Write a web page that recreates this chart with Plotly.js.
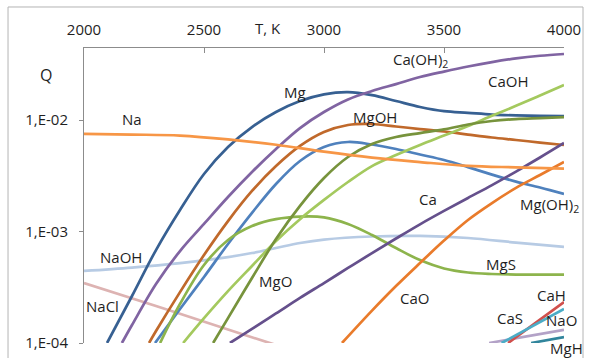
<!DOCTYPE html>
<html><head><meta charset="utf-8">
<script src="https://cdn.plot.ly/plotly-3.0.1.min.js"></script>
<style>html,body{margin:0;padding:0;background:#fff}#chart{width:590px;height:358px}</style>
</head><body><div id="chart"></div>
<script>
// ---- data (T in K, Q) ----
const T_Na = [2000,2200,2400,2600,2800,3000,3200,3400,3600,3800,4000];
const Q_Na = [7.5e-3,7.4e-3,7.25e-3,6.7e-3,6.0e-3,5.2e-3,4.6e-3,4.2e-3,3.88e-3,3.76e-3,3.66e-3];

const T_Mg = [2096,2200,2300,2400,2500,2600,2700,2800,2900,3000,3100,3200,3300,3400,3500,3600,3700,3800,3900,4000];
const Q_Mg = [1.0e-4,2.64e-4,6.82e-4,1.56e-3,3.28e-3,5.73e-3,8.65e-3,1.18e-2,1.48e-2,1.70e-2,1.78e-2,1.67e-2,1.48e-2,1.31e-2,1.20e-2,1.16e-2,1.12e-2,1.10e-2,1.09e-2,1.085e-2];

const T_CaOH2 = [2158,2200,2300,2400,2500,2600,2700,2800,2900,3000,3100,3200,3300,3400,3500,3600,3700,3800,3900,4000];
const Q_CaOH2 = [1.0e-4,1.45e-4,3.38e-4,6.68e-4,1.17e-3,2.04e-3,3.42e-3,5.5e-3,8.47e-3,1.18e-2,1.53e-2,1.82e-2,2.10e-2,2.43e-2,2.72e-2,3.02e-2,3.31e-2,3.57e-2,3.77e-2,3.91e-2];

const T_MgOH = [2271,2300,2400,2500,2600,2700,2800,2900,3000,3100,3200,3300,3400,3500,3600,3700,3800,3900,4000];
const Q_MgOH = [1.0e-4,1.28e-4,2.86e-4,6.15e-4,1.24e-3,2.31e-3,3.86e-3,5.85e-3,7.8e-3,9.02e-3,9.21e-3,8.75e-3,8.3e-3,7.89e-3,7.41e-3,6.97e-3,6.62e-3,6.28e-3,5.97e-3];

const T_MgOH2 = [2296,2400,2500,2600,2700,2800,2900,3000,3100,3200,3300,3400,3500,3600,3700,3800,3900,4000];
const Q_MgOH2 = [1.0e-4,2.02e-4,3.91e-4,7.73e-4,1.47e-3,2.67e-3,4.29e-3,5.73e-3,6.35e-3,6.03e-3,5.5e-3,4.91e-3,4.38e-3,3.78e-3,3.24e-3,2.8e-3,2.48e-3,2.17e-3];

const T_CaOH = [2413,2500,2600,2700,2800,2900,3000,3100,3200,3300,3400,3500,3600,3700,3800,3900,4000];
const Q_CaOH = [1.0e-4,1.67e-4,2.92e-4,4.91e-4,8.22e-4,1.29e-3,1.92e-3,2.78e-3,3.86e-3,4.85e-3,5.97e-3,7.26e-3,8.83e-3,1.09e-2,1.34e-2,1.66e-2,2.06e-2];

const T_MgO = [2538,2600,2700,2800,2900,3000,3100,3200,3300,3400,3500,3600,3700,3800,3900,4000];
const Q_MgO = [1.0e-4,1.67e-4,3.83e-4,8.57e-4,1.70e-3,3.02e-3,4.66e-3,6.10e-3,7.05e-3,7.64e-3,8.23e-3,9.12e-3,9.8e-3,1.02e-2,1.04e-2,1.06e-2];

const T_MgS = [2317,2400,2500,2600,2700,2800,2900,3000,3100,3200,3300,3400,3500,3600,3700,3800,3900,4000];
const Q_MgS = [1.0e-4,2.24e-4,5.01e-4,8.4e-4,1.12e-3,1.29e-3,1.36e-3,1.34e-3,1.17e-3,9.31e-4,7.11e-4,5.54e-4,4.66e-4,4.29e-4,4.16e-4,4.11e-4,4.11e-4,4.11e-4];

const T_Ca = [2608,2700,2800,2900,3000,3100,3200,3300,3400,3500,3600,3700,3800,3900,4000];
const Q_Ca = [1.0e-4,1.34e-4,1.84e-4,2.54e-4,3.45e-4,4.71e-4,6.41e-4,8.65e-4,1.16e-3,1.53e-3,2.0e-3,2.61e-3,3.45e-3,4.61e-3,6.22e-3];

const T_CaO = [3075,3200,3300,3400,3500,3600,3700,3800,3900,4000];
const Q_CaO = [1.0e-4,1.95e-4,3.24e-4,5.21e-4,8.29e-4,1.27e-3,1.80e-3,2.46e-3,3.21e-3,4.20e-3];

const T_NaOH = [2000,2200,2400,2600,2700,2800,2900,3000,3200,3400,3600,3800,4000];
const Q_NaOH = [4.43e-4,4.75e-4,5.21e-4,5.9e-4,6.41e-4,7.11e-4,7.89e-4,8.47e-4,9.02e-4,9.12e-4,8.75e-4,7.96e-4,7.27e-4];

const T_NaCl = [2000,2300,2600,2800];
const Q_NaCl = [3.45e-4,2.15e-4,1.32e-4,9.6e-5];

const T_CaH = [3767,3880,4000];
const Q_CaH = [1.0e-4,1.51e-4,2.33e-4];
const T_NaO = [3740,4000];
const Q_NaO = [1.0e-4,2.02e-4];
const T_CaS = [3688,4000];
const Q_CaS = [1.0e-4,1.31e-4];
const T_MgH = [3863,4000];
const Q_MgH = [1.0e-4,1.13e-4];

const xTicks = [2000,2500,3000,3500,4000];
const yTickVals = [1e-4,1e-3,1e-2];
const yTickText = ["1,E-04","1,E-03","1,E-02"];

// ---- styling ----
const series = [
  ["NaCl", T_NaCl, Q_NaCl, "#DDB3B2"],
  ["NaOH", T_NaOH, Q_NaOH, "#B7CBE4"],
  ["Mg", T_Mg, Q_Mg, "#376092"],
  ["Ca(OH)2", T_CaOH2, Q_CaOH2, "#8064A2"],
  ["MgOH", T_MgOH, Q_MgOH, "#C0692B"],
  ["Mg(OH)2", T_MgOH2, Q_MgOH2, "#4F81BD"],
  ["MgS", T_MgS, Q_MgS, "#8DB44C"],
  ["CaOH", T_CaOH, Q_CaOH, "#A4C95E"],
  ["MgO", T_MgO, Q_MgO, "#77933C"],
  ["Ca", T_Ca, Q_Ca, "#65508C"],
  ["CaO", T_CaO, Q_CaO, "#E97B2B"],
  ["Na", T_Na, Q_Na, "#F79646"],
  ["CaS", T_CaS, Q_CaS, "#B3A2C7"],
  ["CaH", T_CaH, Q_CaH, "#D0504D"],
  ["NaO", T_NaO, Q_NaO, "#4BACC6"],
  ["MgH", T_MgH, Q_MgH, "#31859C"]
];

const traces = series.map(s => ({
  type: "scatter", mode: "lines", name: s[0], x: s[1], y: s[2],
  line: {color: s[3], width: 2.7, shape: "spline", smoothing: 1},
  hoverinfo: "skip"
}));

// label positions [text, T, log10(Q)]
const labels = [
  ["Na", 2200, -1.991],
  ["Mg", 2879, -1.749],
  ["MgOH", 3213, -1.973],
  ["Ca(OH)<sub>2</sub>", 3404, -1.462],
  ["CaOH", 3767, -1.650],
  ["Ca", 3433, -2.709],
  ["Mg(OH)<sub>2</sub>", 3938, -2.762],
  ["NaOH", 2154, -3.229],
  ["NaCl", 2079, -3.668],
  ["MgO", 2796, -3.444],
  ["MgS", 3738, -3.291],
  ["CaO", 3375, -3.596],
  ["CaH", 3946, -3.570],
  ["CaS", 3775, -3.776],
  ["NaO", 3990, -3.794]
];
const font = "'Open Sans', 'Noto Sans', sans-serif";
const txtColor = "#1f1f1f";
const annotations = labels.map(l => ({
  text: l[0], x: l[1], y: l[2], xref: "x", yref: "y", showarrow: false,
  xanchor: "center", yanchor: "middle", font: {family: font, size: 15, color: txtColor}
}));
annotations.push({text: "MgH", xref: "paper", yref: "paper", x: 1.006, y: -0.017, showarrow: false,
  xanchor: "center", yanchor: "middle", font: {family: font, size: 15, color: txtColor}});
annotations.push({text: "T, K", xref: "paper", yref: "paper", x: 0.383, y: 1.068, showarrow: false,
  xanchor: "center", yanchor: "middle", font: {family: font, size: 15, color: txtColor}});
annotations.push({text: "Q", xref: "paper", yref: "paper", x: -0.079, y: 0.908, showarrow: false,
  xanchor: "center", yanchor: "middle", font: {family: font, size: 16, color: txtColor}});

const layout = {
  width: 590, height: 358,
  margin: {l: 84, r: 26, t: 48, b: 15, pad: 0},
  paper_bgcolor: "#ffffff", plot_bgcolor: "#ffffff",
  showlegend: false,
  font: {family: font, size: 15, color: txtColor},
  xaxis: {
    side: "top", range: [2000, 4000], tickmode: "array", tickvals: xTicks,
    showgrid: false, zeroline: false, showline: true, linecolor: "#8c8c8c", linewidth: 1,
    ticks: "inside", ticklen: 5, tickcolor: "#8c8c8c", ticklabelstandoff: 6,
    tickfont: {family: font, size: 15, color: txtColor}
  },
  yaxis: {
    type: "log", range: [-4, -1.354], tickmode: "array", tickvals: yTickVals, ticktext: yTickText,
    showgrid: false, zeroline: false, showline: true, linecolor: "#8c8c8c", linewidth: 1,
    ticks: "outside", ticklen: 4, tickcolor: "#8c8c8c", ticklabelstandoff: 8,
    tickfont: {family: font, size: 15, color: txtColor}
  },
  shapes: [{type: "rect", xref: "paper", yref: "paper", x0: -0.1583, x1: 1.0396, y0: -0.07, y1: 1.139,
    line: {color: "#b4b4b4", width: 1}, fillcolor: "rgba(0,0,0,0)", layer: "below"}],
  annotations: annotations
};

Plotly.newPlot("chart", traces, layout, {staticPlot: true, displayModeBar: false});
</script></body></html>
